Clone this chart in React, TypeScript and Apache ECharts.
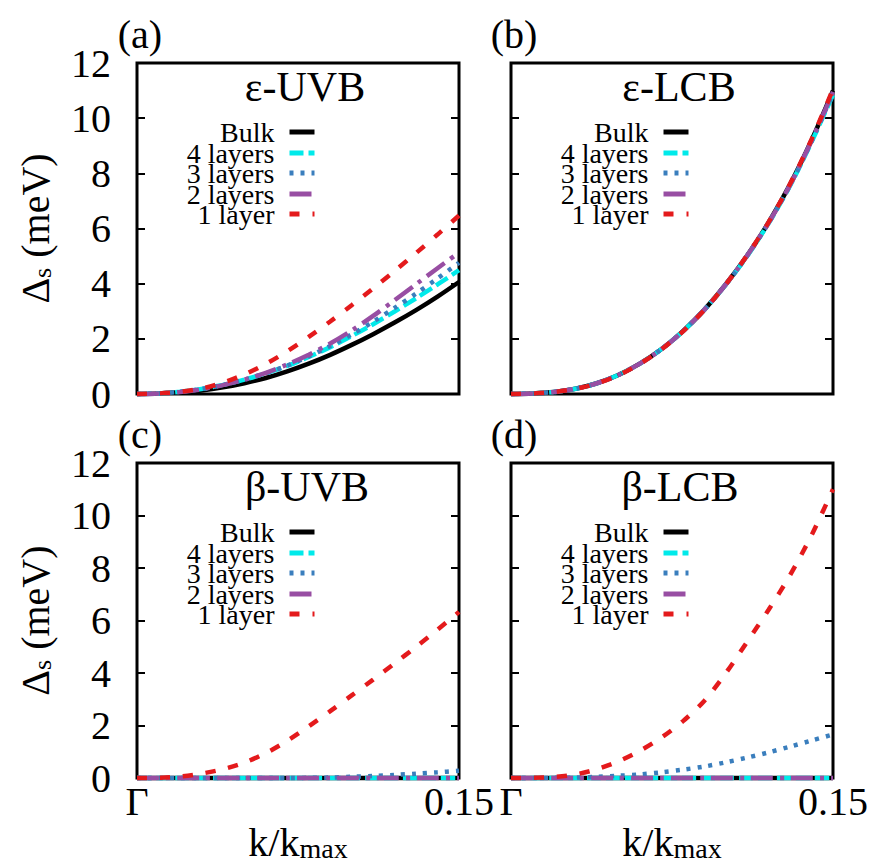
import React, { useEffect, useRef } from 'react';
import * as echarts from 'echarts';

// ---------- data ----------
const kPoints = [0, 0.01, 0.02, 0.03, 0.04, 0.05, 0.06, 0.07, 0.08, 0.09, 0.1, 0.11, 0.12, 0.13, 0.14, 0.15];
const seriesNames = ['Bulk', '4 layers', '3 layers', '2 layers', '1 layer'];
const panelTitles = ['ε-UVB', 'ε-LCB', 'β-UVB', 'β-LCB'];
const panelLetters = ['(a)', '(b)', '(c)', '(d)'];
const xTickLabels = ['Γ', '0.15'];

// (a) ε-UVB
const epsUVB_bulk = [0, 0.02, 0.06, 0.13, 0.24, 0.39, 0.58, 0.82, 1.1, 1.42, 1.78, 2.17, 2.59, 3.04, 3.53, 4.06];
const epsUVB_4 = [0, 0.02, 0.08, 0.18, 0.33, 0.52, 0.75, 1.02, 1.34, 1.7, 2.1, 2.53, 2.99, 3.47, 3.97, 4.49];
const epsUVB_3 = [0, 0.02, 0.08, 0.18, 0.33, 0.52, 0.75, 1.03, 1.36, 1.74, 2.16, 2.62, 3.12, 3.64, 4.19, 4.76];
const epsUVB_2 = [0, 0.02, 0.07, 0.17, 0.32, 0.52, 0.77, 1.07, 1.42, 1.83, 2.3, 2.83, 3.4, 3.98, 4.56, 5.13];
const epsUVB_1 = [0, 0.02, 0.08, 0.2, 0.41, 0.71, 1.09, 1.55, 2.07, 2.63, 3.22, 3.83, 4.46, 5.11, 5.78, 6.47];

// (b) ε-LCB
const epsLCB_bulk = [0, 0.02, 0.07, 0.19, 0.39, 0.69, 1.1, 1.62, 2.27, 3.05, 3.97, 5.02, 6.22, 7.6, 9.2, 11.0];
const epsLCB_4 = [0, 0.02, 0.07, 0.19, 0.39, 0.69, 1.1, 1.62, 2.27, 3.05, 3.96, 5.0, 6.19, 7.55, 9.13, 10.85];
const epsLCB_3 = [0, 0.02, 0.07, 0.19, 0.39, 0.69, 1.1, 1.62, 2.27, 3.05, 3.96, 5.01, 6.2, 7.57, 9.16, 10.9];
const epsLCB_2 = [0, 0.02, 0.07, 0.19, 0.39, 0.69, 1.1, 1.62, 2.27, 3.05, 3.97, 5.02, 6.21, 7.58, 9.18, 10.95];
const epsLCB_1 = [0, 0.02, 0.07, 0.19, 0.38, 0.68, 1.09, 1.61, 2.26, 3.04, 3.97, 5.03, 6.23, 7.62, 9.23, 11.05];

// (c) β-UVB
const betaUVB_bulk = [0, 0, 0, 0, 0, 0, 0, 0, 0, 0, 0, 0, 0, 0, 0, 0];
const betaUVB_4 = [0, 0, 0, 0, 0, 0, 0, 0, 0, 0, 0, 0, 0, 0, 0, 0];
const betaUVB_3 = [0, 0, 0, 0, 0, 0, 0, 0, 0.01, 0.02, 0.05, 0.08, 0.12, 0.17, 0.22, 0.28];
const betaUVB_2 = [0, 0, 0, 0, 0, 0, 0, 0, 0, 0, 0, 0, 0, 0, 0, 0];
const betaUVB_1 = [0, 0.01, 0.06, 0.17, 0.34, 0.59, 0.95, 1.42, 1.97, 2.55, 3.15, 3.75, 4.37, 5.0, 5.65, 6.33];

// (d) β-LCB
const betaLCB_bulk = [0, 0, 0, 0, 0, 0, 0, 0, 0, 0, 0, 0, 0, 0, 0, 0];
const betaLCB_4 = [0, 0, 0, 0, 0, 0, 0, 0, 0, 0, 0, 0, 0, 0, 0, 0];
const betaLCB_3 = [0, 0, 0.01, 0.02, 0.05, 0.09, 0.14, 0.22, 0.32, 0.44, 0.6, 0.78, 0.98, 1.2, 1.43, 1.66];
const betaLCB_2 = [0, 0, 0, 0, 0, 0, 0, 0, 0, 0, 0, 0, 0, 0, 0, 0];
const betaLCB_1 = [0, 0.01, 0.04, 0.14, 0.34, 0.64, 1.04, 1.54, 2.16, 2.94, 3.99, 5.19, 6.41, 7.73, 9.25, 11.0];

const panelData = [
  [epsUVB_bulk, epsUVB_4, epsUVB_3, epsUVB_2, epsUVB_1],
  [epsLCB_bulk, epsLCB_4, epsLCB_3, epsLCB_2, epsLCB_1],
  [betaUVB_bulk, betaUVB_4, betaUVB_3, betaUVB_2, betaUVB_1],
  [betaLCB_bulk, betaLCB_4, betaLCB_3, betaLCB_2, betaLCB_1],
];

// ---------- styles ----------
const FONT = 'Liberation Serif';
const lineStyles: any[] = [
  { color: '#000000', type: 'solid' },
  { color: '#00eaea', type: [14, 5] },
  { color: '#3a7ebd', type: [4, 7] },
  { color: '#984ea3', type: [22, 7, 4, 7] },
  { color: '#e41a1c', type: [10, 13] },
];
const gridBoxes = [
  { left: 137, top: 63, width: 322, height: 331 },
  { left: 511, top: 63, width: 322, height: 331 },
  { left: 137, top: 463, width: 322, height: 331 },
  { left: 511, top: 463, width: 322, height: 331 },
];
const legendRowCenters = [128, 149, 169, 190, 210];
const legendRight = [556, 182];
const titlePos = [
  [305, 87],
  [679, 87],
  [307, 487],
  [680, 487],
];
const letterPos = [
  [140, 34],
  [514, 34],
  [140, 434],
  [514, 434],
];

export default function App() {
  const ref = useRef<HTMLDivElement>(null);
  useEffect(() => {
    document.body.style.margin = '0';
    if (!ref.current) return;
    const chart = echarts.init(ref.current, null, { renderer: 'svg' });

    const xAxes: any[] = [];
    const yAxes: any[] = [];
    const series: any[] = [];
    const legends: any[] = [];
    const graphics: any[] = [];

    gridBoxes.forEach((_, p) => {
      const bottom = p >= 2;
      const left = p % 2 === 0;
      xAxes.push({
        type: 'value',
        gridIndex: p,
        min: 0,
        max: 0.15,
        interval: 0.15,
        axisLine: { show: false },
        axisTick: { show: false },
        splitLine: { show: false },
        axisLabel: {
          show: bottom,
          formatter: (_v: number, i: number) => xTickLabels[i],
          fontSize: 40,
          fontFamily: FONT,
          color: '#000',
          margin: 3,
        },
        name: bottom ? '{n|k/k}{m|max}' : '',
        nameLocation: 'middle',
        nameGap: 18,
        nameTextStyle: {
          color: '#000',
          fontFamily: FONT,
          rich: {
            n: { fontSize: 40, lineHeight: 40, fontFamily: FONT, color: '#000' },
            m: { fontSize: 28, lineHeight: 4, verticalAlign: 'bottom', fontFamily: FONT, color: '#000' },
          },
        },
      });
      const tick = { show: true, inside: true, length: 8, lineStyle: { color: '#000', width: 2 } };
      yAxes.push({
        type: 'value',
        gridIndex: p,
        position: 'left',
        min: 0,
        max: 12,
        interval: 2,
        axisLine: { show: false },
        axisTick: tick,
        splitLine: { show: false },
        axisLabel: { show: left, fontSize: 40, fontFamily: FONT, color: '#000', margin: 26 },
        name: left ? '{n|Δ}{s|s}{n| (meV)}' : '',
        nameLocation: 'middle',
        nameRotate: 90,
        nameGap: 82,
        nameTextStyle: {
          color: '#000',
          fontFamily: FONT,
          rich: {
            n: { fontSize: 40, lineHeight: 40, fontFamily: FONT, color: '#000' },
            s: { fontSize: 26, lineHeight: 4, verticalAlign: 'bottom', fontFamily: FONT, color: '#000' },
          },
        },
      });
      yAxes.push({
        type: 'value',
        gridIndex: p,
        position: 'right',
        min: 0,
        max: 12,
        interval: 2,
        axisLine: { show: false },
        axisTick: tick,
        splitLine: { show: false },
        axisLabel: { show: false },
      });

      seriesNames.forEach((name, s) => {
        const ls = lineStyles[s];
        series.push({
          type: 'line',
          name,
          xAxisIndex: p,
          yAxisIndex: 2 * p,
          data: kPoints.map((k, i) => [k, panelData[p][s][i]]),
          symbol: 'none',
          smooth: 0.3,
          clip: false,
          lineStyle: { color: ls.color, width: 4.5, type: ls.type },
          itemStyle: { color: ls.color },
          z: 2 + s,
        });
        legends.push({
          data: [name],
          orient: 'vertical',
          align: 'right',
          right: legendRight[p % 2],
          top: legendRowCenters[s] + (bottom ? 400 : 0) - 10,
          itemWidth: 25,
          itemHeight: 20,
          padding: 0,
          selectedMode: false,
          itemStyle: { opacity: 0 },
          lineStyle: { width: 5 },
          textStyle: {
            fontSize: 28,
            fontFamily: FONT,
            color: '#000',
            lineHeight: 20,
            padding: [0, 10, 0, 0],
          },
        });
      });

      graphics.push({
        type: 'text',
        x: titlePos[p][0],
        y: titlePos[p][1],
        style: {
          text: panelTitles[p],
          fontSize: 42,
          fontFamily: FONT,
          fill: '#000',
          align: 'center',
          verticalAlign: 'middle',
        },
      });
      graphics.push({
        type: 'text',
        x: letterPos[p][0],
        y: letterPos[p][1],
        style: {
          text: panelLetters[p],
          fontSize: 40,
          fontFamily: FONT,
          fill: '#000',
          align: 'center',
          verticalAlign: 'middle',
        },
      });
    });

    chart.setOption({
      animation: false,
      backgroundColor: '#fff',
      grid: gridBoxes.map((g) => ({
        ...g,
        show: true,
        borderColor: '#000',
        borderWidth: 3,
        backgroundColor: 'transparent',
        containLabel: false,
      })),
      xAxis: xAxes,
      yAxis: yAxes,
      legend: legends,
      series,
      graphic: graphics,
    });
    return () => chart.dispose();
  }, []);
  return <div ref={ref} style={{ width: 873, height: 863 }} />;
}
